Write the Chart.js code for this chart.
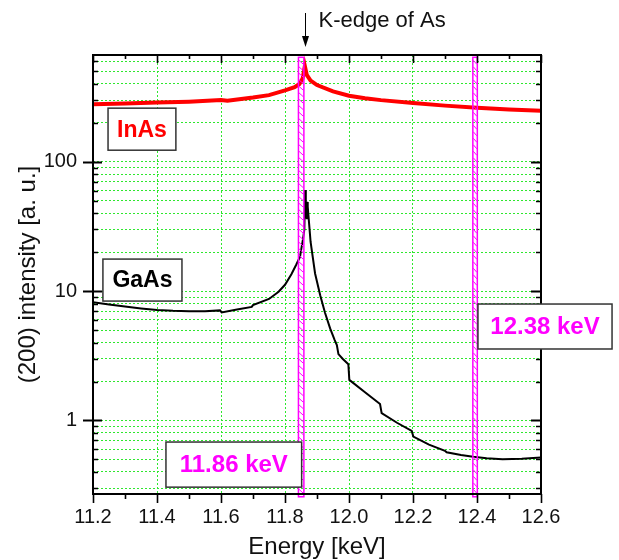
<!DOCTYPE html>
<html>
<head>
<meta charset="utf-8">
<script src="https://cdn.jsdelivr.net/npm/chart.js@4.4.1/dist/chart.umd.min.js"></script>
<style>
html,body{margin:0;padding:0;background:#fff;}
#wrap{width:619px;height:560px;position:relative;}
</style>
</head>
<body>
<div id="wrap"><canvas id="c" width="619" height="560"></canvas></div>
<script>
// ---------- data ----------
const inasEnergy = [11.20, 11.30, 11.40, 11.50, 11.60, 11.62, 11.70, 11.75, 11.80, 11.83, 11.845, 11.855, 11.862, 11.868, 11.88, 11.90, 11.95, 12.00, 12.05, 12.10, 12.20, 12.30, 12.40, 12.50, 12.60];
const inasIntensity = [279, 283, 287, 292, 300, 297, 314, 328, 357, 378, 400, 440, 550, 470, 425, 392, 350, 324, 310, 300, 285, 272, 262, 254, 248];

const gaasEnergy = [11.20, 11.25, 11.30, 11.35, 11.40, 11.45, 11.50, 11.55, 11.597, 11.602, 11.65, 11.696, 11.70, 11.75, 11.78, 11.80, 11.82, 11.835, 11.847, 11.852, 11.856, 11.8605, 11.8625, 11.865, 11.868, 11.869, 11.871, 11.88, 11.894, 11.91, 11.925, 11.941, 11.955, 11.962, 11.967, 11.98, 11.998, 12.001, 12.05, 12.097, 12.102, 12.15, 12.196, 12.201, 12.25, 12.30, 12.305, 12.35, 12.388, 12.43, 12.48, 12.54, 12.60];
const gaasIntensity = [8.2, 7.9, 7.6, 7.35, 7.15, 7.05, 7.0, 7.0, 7.1, 6.85, 7.2, 7.55, 7.8, 8.7, 9.9, 11.2, 13.5, 16, 18.5, 22, 25, 30, 60.5, 40, 36, 49, 45, 24, 13.7, 9.3, 6.8, 5.15, 4.2, 3.83, 3.26, 3.0, 2.72, 2.06, 1.65, 1.34, 1.14, 0.96, 0.83, 0.75, 0.65, 0.583, 0.567, 0.54, 0.524, 0.51, 0.502, 0.505, 0.518];

const xTickValues = [11.2, 11.3, 11.4, 11.5, 11.6, 11.7, 11.8, 11.9, 12.0, 12.1, 12.2, 12.3, 12.4, 12.5, 12.6];
const xTickLabels = ['11.2', '', '11.4', '', '11.6', '', '11.8', '', '12.0', '', '12.2', '', '12.4', '', '12.6'];
const yTickValues = [0.3, 0.4, 0.5, 0.6, 0.7, 0.8, 0.9, 1, 2, 3, 4, 5, 6, 7, 8, 9, 10, 20, 30, 40, 50, 60, 70, 80, 90, 100, 200, 300, 400, 500, 600];
const yLabelValues = [1, 10, 100];

const markerRanges = [[11.842, 11.859], [12.387, 12.401]];
const markerLabels = ['11.86 keV', '12.38 keV'];
const seriesLabels = ['InAs', 'GaAs'];
const edgeEnergy = 11.862;
const edgeLabel = 'K-edge of As';

// ---------- styling / layout ----------
const FONT = '"Liberation Sans", Arial, Helvetica, sans-serif';
const GRID = '#2ee82e';
const MAGENTA = '#ff00ff';
const markerSpan = [643, 0.257];
const boxes = [
  {text: seriesLabels[0], color: '#ff0000', size: 23, e: [11.247, 11.459], v: [260, 123]},
  {text: seriesLabels[1], color: '#000000', size: 23, e: [11.231, 11.478], v: [17.7, 8.38]},
  {text: markerLabels[0], color: MAGENTA, size: 24, e: [11.428, 11.852], v: [0.681, 0.305]},
  {text: markerLabels[1], color: MAGENTA, size: 24, e: [12.403, 12.822], v: [7.95, 3.57]}
];

const decor = {
  id: 'decor',
  afterDatasetsDraw(chart) {
    const {ctx, scales: {x, y}} = chart;
    ctx.save();
    markerRanges.forEach(r => {
      const x0 = x.getPixelForValue(r[0]), x1 = x.getPixelForValue(r[1]);
      const yt = y.getPixelForValue(markerSpan[0]), yb = y.getPixelForValue(markerSpan[1]);
      ctx.strokeStyle = MAGENTA;
      ctx.lineWidth = 1.5;
      ctx.strokeRect(x0, yt, x1 - x0, yb - yt);
      ctx.lineWidth = 1;
      ctx.beginPath();
      for (let yy = yt + 3; yy < yb - 4; yy += 6.5) {
        ctx.moveTo(x0 + 0.5, yy);
        ctx.lineTo(x1 - 0.5, yy + 4);
      }
      ctx.stroke();
    });
    ctx.restore();
  },
  afterDraw(chart) {
    const {ctx, chartArea: a, scales: {x, y}} = chart;
    ctx.save();
    // frame
    ctx.strokeStyle = '#000';
    ctx.lineWidth = 2;
    ctx.strokeRect(a.left, a.top, a.right - a.left, a.bottom - a.top);
    // y ticks
    yTickValues.forEach(v => {
      const py = Math.round(y.getPixelForValue(v)) + 0.5;
      const major = yLabelValues.includes(v);
      ctx.beginPath();
      ctx.lineWidth = major ? 2 : 1.6;
      ctx.moveTo(a.left - (major ? 10 : 0), py);
      ctx.lineTo(a.left + (major ? 9 : 5), py);
      ctx.moveTo(a.right - (major ? 10 : 5), py);
      ctx.lineTo(a.right, py);
      ctx.stroke();
    });
    // x ticks
    xTickValues.forEach((v, i) => {
      const px = Math.round(x.getPixelForValue(v)) + 0.5;
      const major = xTickLabels[i] !== '';
      ctx.beginPath();
      ctx.lineWidth = 1.6;
      ctx.moveTo(px, a.top);
      ctx.lineTo(px, a.top + (major ? 8 : 4));
      ctx.moveTo(px, a.bottom);
      ctx.lineTo(px, a.bottom + (major ? 9 : 5));
      ctx.stroke();
    });
    // label boxes
    boxes.forEach(b => {
      const x0 = x.getPixelForValue(b.e[0]), x1 = x.getPixelForValue(b.e[1]);
      const y0 = y.getPixelForValue(b.v[0]), y1 = y.getPixelForValue(b.v[1]);
      ctx.fillStyle = '#fff';
      ctx.fillRect(x0, y0, x1 - x0, y1 - y0);
      ctx.strokeStyle = '#333';
      ctx.lineWidth = 1.5;
      ctx.strokeRect(x0, y0, x1 - x0, y1 - y0);
      ctx.fillStyle = b.color;
      ctx.font = 'bold ' + b.size + 'px ' + FONT;
      ctx.textAlign = 'center';
      ctx.textBaseline = 'middle';
      ctx.fillText(b.text, (x0 + x1) / 2, (y0 + y1) / 2 + 1);
    });
    // K-edge arrow
    const ax = Math.round(x.getPixelForValue(edgeEnergy)) + 0.5;
    ctx.strokeStyle = '#000';
    ctx.fillStyle = '#000';
    ctx.lineWidth = 1;
    ctx.beginPath();
    ctx.moveTo(ax, 13);
    ctx.lineTo(ax, 40);
    ctx.stroke();
    ctx.beginPath();
    ctx.moveTo(ax - 3.5, 36);
    ctx.lineTo(ax + 3.5, 36);
    ctx.lineTo(ax, 47);
    ctx.closePath();
    ctx.fill();
    ctx.font = '22px ' + FONT;
    ctx.fillStyle = '#111';
    ctx.textAlign = 'left';
    ctx.textBaseline = 'middle';
    ctx.fillText(edgeLabel, ax + 13, 21);
    ctx.restore();
  }
};

const toPoints = (xs, ys) => xs.map((v, i) => ({x: v, y: ys[i]}));

new Chart(document.getElementById('c'), {
  type: 'line',
  data: {
    datasets: [
      {label: seriesLabels[0], data: toPoints(inasEnergy, inasIntensity), borderColor: '#ff0000', borderWidth: 4, pointRadius: 0, tension: 0, fill: false},
      {label: seriesLabels[1], data: toPoints(gaasEnergy, gaasIntensity), borderColor: '#000000', borderWidth: 2, pointRadius: 0, tension: 0, fill: false}
    ]
  },
  options: {
    responsive: false,
    animation: false,
    devicePixelRatio: 1,
    layout: {padding: {top: 55, right: 78, left: 0, bottom: 0}},
    plugins: {legend: {display: false}, tooltip: {enabled: false}},
    scales: {
      x: {
        type: 'linear',
        min: 11.2, max: 12.6,
        afterFit: s => { s.height = 66; },
        afterBuildTicks: s => { s.ticks = xTickValues.map(v => ({value: v})); },
        grid: {
          drawTicks: false,
          lineWidth: 1,
          color: ctx => (ctx.tick && xTickLabels[xTickValues.indexOf(ctx.tick.value)] !== '') ? GRID : 'rgba(0,0,0,0)'
        },
        border: {display: false, dash: [2, 2]},
        ticks: {
          autoSkip: false, maxRotation: 0, padding: 11,
          color: '#111', font: {family: FONT, size: 20},
          callback: (v, i) => xTickLabels[i]
        },
        title: {display: true, text: 'Energy [keV]', color: '#111', font: {family: FONT, size: 24, lineHeight: 1}, padding: {top: 0, bottom: 1}}
      },
      y: {
        type: 'logarithmic',
        min: 0.27, max: 670,
        afterFit: s => { s.width = 93; },
        afterBuildTicks: s => { s.ticks = yTickValues.map(v => ({value: v})); },
        grid: {drawTicks: false, lineWidth: 1, color: GRID},
        border: {display: false, dash: [2, 2]},
        ticks: {
          autoSkip: false, padding: 16,
          color: '#111', font: {family: FONT, size: 20},
          callback: v => yLabelValues.includes(v) ? String(v) : ''
        },
        title: {display: true, text: '(200) intensity [a. u.]', color: '#111', font: {family: FONT, size: 24, lineHeight: 1}, padding: {top: 16, bottom: 0}}
      }
    }
  },
  plugins: [decor]
});
</script>
</body>
</html>
